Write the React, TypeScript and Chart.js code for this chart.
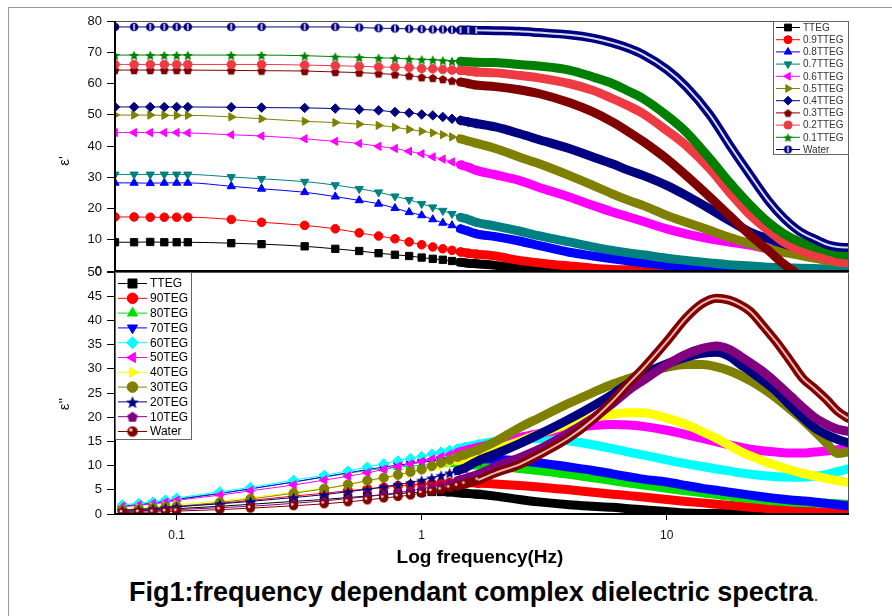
import React, { useEffect, useRef } from "react";
import { Chart, registerables } from "chart.js";
import { drawPoint } from "chart.js/helpers";

Chart.register(...registerables);

// ---------- data: top panel (ε') ----------
const TOP_FREQ = [
  0.056, 0.067, 0.078, 0.089, 0.1, 0.111,
  0.167, 0.222, 0.333, 0.444, 0.556, 0.667, 0.778, 0.889, 1.0,
  1.11, 1.22, 1.33, 1.44, 1.55, 1.67,
  2, 2.5, 3, 4, 5, 6, 7, 8,
  10, 12, 15, 18, 22, 26, 30, 35, 40, 45, 50, 55,
];
const TOP_LABELS = ["TTEG", "0.9TTEG", "0.8TTEG", "0.7TTEG", "0.6TTEG", "0.5TTEG", "0.4TTEG", "0.3TTEG", "0.2TTEG", "0.1TTEG", "Water"];
const TOP_TTEG = [
  9.2, 9.2, 9.3, 9.2, 9.2, 9.2,
  8.9, 8.6, 7.9, 7.1, 6.4, 5.7, 5.2, 4.8, 4.3,
  3.9, 3.6, 3.2, 2.8, 2.5, 2.3,
  1.8, 0.9, 0.5, 0.3, 0.2, 0.2, 0.15, 0.1,
  0.1, 0.1, 0.1, 0.1, 0.1, 0.1, 0.1, 0.1, 0.1, 0.1, 0.1, 0.1,
];
const TOP_09 = [
  17.3, 17.3, 17.2, 17.2, 17.2, 17.2,
  16.5, 15.6, 14.6, 13.5, 12.2, 11.2, 10.3, 9.3, 8.4,
  7.7, 7.1, 6.6, 6.1, 5.7, 5.4,
  4.8, 3.4, 2.6, 1.6, 0.9, 0.5, 0.4, 0.3,
  0.2, 0.2, 0.15, 0.1, 0.1, 0.1, 0.1, 0.1, 0.1, 0.1, 0.1, 0.1,
];
const TOP_08 = [
  28.2, 28.2, 28.1, 28.2, 28.2, 28.2,
  27.1, 26.3, 25.2, 23.8, 22.6, 21.5, 20.1, 18.8, 17.8,
  16.5, 15.4, 14.6, 13.5, 12.7, 11.9,
  11.0, 9.6, 8.2, 6.0, 4.8, 3.9, 3.2, 2.6,
  1.8, 1.2, 0.8, 0.6, 0.5, 0.4, 0.3, 0.3, 0.2, 0.2, 0.2, 0.2,
];
const TOP_07 = [
  30.9, 30.9, 30.9, 30.9, 30.9, 30.9,
  30.1, 29.5, 28.6, 27.5, 26.3, 25.2, 23.9, 22.8, 21.5,
  20.4, 19.3, 18.3, 17.2, 16.5, 15.6,
  14.4, 12.8, 11.3, 9.3, 7.7, 6.6, 5.8, 5.2,
  4.1, 3.4, 2.6, 2.0, 1.6, 1.2, 1.0, 0.9, 0.8, 0.7, 0.7, 0.6,
];
const TOP_06 = [
  44.3, 44.3, 44.3, 44.3, 44.3, 44.2,
  43.6, 43.2, 42.3, 41.5, 40.8, 39.9, 39.2, 38.3, 37.5,
  36.5, 35.8, 34.9, 34.0, 33.2, 32.2,
  30.8, 29.0, 26.8, 23.7, 21.0, 18.9, 17.3, 15.9,
  13.5, 11.9, 10.3, 9.3, 8.2, 7.1, 6.6, 6.0, 5.5, 5.0, 4.8, 4.4,
];
const TOP_05 = [
  49.9, 49.9, 49.9, 49.8, 49.8, 49.8,
  49.3, 48.7, 47.9, 47.5, 47.0, 46.6, 46.0, 45.3, 44.7,
  44.2, 43.6, 42.9, 42.3, 41.6, 40.9,
  39.2, 36.5, 34.4, 30.6, 27.4, 24.7, 22.6, 21.0,
  17.8, 15.6, 13.0, 10.8, 8.7, 7.1, 6.0, 5.0, 4.1, 3.4, 2.8, 2.6,
];
const TOP_04 = [
  52.5, 52.5, 52.5, 52.5, 52.5, 52.5,
  52.4, 52.3, 52.2, 52.0, 51.7, 51.4, 50.9, 50.6, 50.1,
  49.8, 49.3, 48.7, 48.2, 47.7, 47.2,
  46.1, 44.0, 42.1, 39.2, 36.5, 34.3, 32.2, 30.6,
  27.4, 24.2, 19.9, 16.2, 12.4, 10.3, 8.7, 7.1, 6.0, 5.0, 4.4, 3.9,
];
const TOP_03 = [
  64.3, 64.3, 64.3, 64.3, 64.3, 64.3,
  64.2, 64.1, 64.0, 63.7, 63.5, 63.2, 62.9, 62.5, 62.0,
  61.8, 61.4, 60.9, 60.5, 60.0, 59.5,
  59.0, 58.0, 56.8, 53.9, 50.9, 47.7, 44.5, 41.5,
  35.9, 30.6, 23.7, 17.8, 11.4, 6.6, 2.3, -1.5, -4.0, -6.0, -8.0, -10.0,
];
const TOP_02 = [
  66.1, 66.1, 66.1, 66.1, 66.1, 66.1,
  66.1, 66.1, 65.9, 65.7, 65.5, 65.3, 65.2, 65.1, 64.8,
  64.7, 64.5, 64.3, 64.2, 64.0, 63.7,
  63.4, 62.6, 61.8, 60.0, 57.8, 55.2, 52.8, 50.4,
  45.0, 40.2, 32.7, 25.3, 17.8, 13.0, 9.3, 6.6, 5.0, 3.9, 3.0, 2.6,
];
const TOP_01 = [
  69.1, 69.1, 69.1, 69.1, 69.1, 69.1,
  69.1, 69.1, 68.9, 68.6, 68.4, 68.2, 68.1, 67.9, 67.7,
  67.6, 67.4, 67.2, 67.1, 67.0, 66.8,
  66.7, 66.1, 65.6, 64.3, 62.1, 60.0, 57.5, 55.2,
  49.8, 44.5, 36.0, 28.5, 21.0, 15.6, 12.0, 9.3, 7.7, 6.6, 5.5, 5.0,
];
const TOP_WATER = [
  78.1, 78.1, 78.1, 78.1, 78.1, 78.1,
  78.1, 78.1, 78.1, 78.1, 77.9, 77.7, 77.6, 77.5, 77.4,
  77.3, 77.3, 77.2, 77.1, 77.1, 77.0,
  76.9, 76.7, 76.3, 75.6, 74.5, 73.0, 71.3, 69.3,
  64.5, 59.0, 50.0, 40.5, 30.5, 22.5, 17.0, 12.6, 10.3, 8.5, 7.7, 7.5,
];

// ---------- data: bottom panel (ε'') ----------
const BOT_FREQ = [
  0.06, 0.07, 0.08, 0.09, 0.1, 0.15, 0.2,
  0.3, 0.4, 0.5, 0.6, 0.7, 0.8, 0.9, 1.0,
  1.1, 1.2, 1.3, 1.4, 1.5, 1.7,
  2, 2.5, 3, 4, 5, 6, 7, 8,
  10, 12, 14, 16, 18, 20, 22, 25, 28, 32, 36, 40, 45, 50, 55,
];
const BOT_LABELS = ["TTEG", "90TEG", "80TEG", "70TEG", "60TEG", "50TEG", "40TEG", "30TEG", "20TEG", "10TEG", "Water"];
const BOT_TTEG = [
  0.6, 0.7, 0.8, 1.0, 1.1, 1.6, 2.0,
  2.6, 3.0, 3.4, 3.7, 4.0, 4.2, 4.4, 4.5,
  4.6, 4.6, 4.5, 4.4, 4.3, 4.1,
  3.7, 3.0, 2.5, 1.9, 1.6, 1.4, 1.1, 0.9,
  0.5, 0.2, 0.1, 0.1, 0.1, 0.1, 0.1, 0.1, 0.1, 0.1, 0.1, 0.1, 0.1, 0.1, 0.1,
];
const BOT_90 = [
  0.8, 0.9, 1.1, 1.3, 1.5, 2.2, 2.8,
  3.7, 4.3, 4.8, 5.2, 5.5, 5.8, 6.0, 6.2,
  6.3, 6.4, 6.5, 6.5, 6.5, 6.4,
  6.2, 5.9, 5.6, 5.0, 4.5, 4.1, 3.8, 3.5,
  3.0, 2.6, 2.3, 2.0, 1.8, 1.6, 1.4, 1.2, 1.0, 0.8, 0.7, 0.5, 0.4, 0.3, 0.2,
];
const BOT_80 = [
  1.7, 2.0, 2.3, 2.7, 3.1, 4.3, 5.2,
  6.6, 7.6, 8.4, 9.0, 9.4, 9.7, 9.9, 10.1,
  10.2, 10.3, 10.3, 10.3, 10.2, 10.1,
  9.9, 9.4, 9.0, 8.2, 7.5, 6.9, 6.4, 6.0,
  5.3, 4.8, 4.4, 4.0, 3.7, 3.4, 3.2, 2.9, 2.7, 2.5, 2.4, 2.3, 2.2, 2.1, 2.0,
];
const BOT_70 = [
  1.6, 1.9, 2.2, 2.6, 3.0, 4.2, 5.2,
  6.6, 7.7, 8.5, 9.2, 9.7, 10.1, 10.4, 10.7,
  10.9, 11.1, 11.2, 11.3, 11.4, 11.4,
  11.3, 11.0, 10.6, 9.7, 9.0, 8.3, 7.7, 7.2,
  6.6, 5.9, 5.3, 4.9, 4.5, 4.2, 3.9, 3.5, 3.2, 2.9, 2.7, 2.5, 2.2, 1.9, 1.7,
];
const BOT_60 = [
  1.9, 2.2, 2.5, 2.9, 3.3, 4.6, 5.5,
  7.0, 8.0, 8.9, 9.7, 10.4, 11.0, 11.5, 11.9,
  12.4, 12.8, 13.2, 13.5, 13.8, 14.4,
  15.0, 15.5, 15.6, 15.1, 14.3, 13.5, 12.8, 12.2,
  11.2, 10.4, 9.8, 9.3, 8.9, 8.5, 8.2, 7.9, 7.7, 7.6, 7.6, 7.8, 8.2, 8.8, 9.3,
];
const BOT_50 = [
  1.5, 1.8, 2.1, 2.4, 2.8, 3.9, 4.8,
  6.0, 7.0, 7.8, 8.5, 9.2, 9.8, 10.3, 10.8,
  11.3, 11.8, 12.3, 12.7, 13.1, 13.8,
  14.6, 15.8, 16.6, 17.7, 18.3, 18.5, 18.4, 18.1,
  17.3, 16.4, 15.6, 14.9, 14.3, 13.8, 13.4, 13.0, 12.8, 12.6, 12.6, 12.8, 13.0, 13.3, 13.5,
];
const BOT_40 = [
  1.0, 1.2, 1.4, 1.6, 1.9, 2.7, 3.4,
  4.5, 5.3, 6.0, 6.7, 7.3, 7.9, 8.4, 9.0,
  9.5, 10.0, 10.5, 11.0, 11.4, 12.2,
  13.3, 15.0, 16.5, 18.6, 19.9, 20.6, 20.9, 20.9,
  19.8, 18.5, 17.0, 15.6, 14.2, 12.9, 12.0, 10.9, 10.0, 9.1, 8.4, 7.9, 7.3, 6.9, 6.5,
];
const BOT_30 = [
  0.9, 1.0, 1.2, 1.4, 1.6, 2.4, 3.1,
  4.3, 5.2, 6.1, 6.9, 7.5, 8.1, 8.7, 9.2,
  9.9, 10.6, 11.2, 11.8, 12.3, 13.3,
  15.0, 17.8, 19.8, 22.9, 25.1, 26.8, 28.0, 29.0,
  30.3, 30.9, 30.9, 30.4, 29.6, 28.6, 27.5, 25.8, 24.0, 21.6, 19.4, 17.2, 14.6, 12.5, 12.8,
];
const BOT_20 = [
  0.8, 0.9, 1.1, 1.3, 1.5, 2.1, 2.6,
  3.4, 4.0, 4.6, 5.1, 5.6, 6.1, 6.5, 7.0,
  7.5, 8.0, 8.5, 9.0, 9.5, 11.0,
  12.4, 14.5, 16.4, 19.6, 22.3, 24.7, 27.0, 28.8,
  31.0, 32.4, 33.2, 33.4, 32.6, 30.9, 29.5, 27.4, 25.4, 22.4, 19.9, 17.9, 16.4, 15.4, 14.7,
];
const BOT_10 = [
  0.5, 0.6, 0.7, 0.8, 0.9, 1.3, 1.6,
  2.2, 2.7, 3.2, 3.6, 4.0, 4.4, 4.8, 5.2,
  5.6, 6.0, 6.5, 6.9, 7.3, 8.2,
  9.8, 11.6, 13.3, 16.8, 19.8, 22.8, 25.6, 27.6,
  30.8, 33.0, 34.2, 34.7, 34.0, 32.6, 31.2, 29.2, 27.1, 24.4, 22.0, 20.0, 18.5, 17.5, 17.1,
];
const BOT_WATER = [
  0.3, 0.35, 0.4, 0.5, 0.6, 0.9, 1.2,
  1.7, 2.1, 2.5, 2.9, 3.3, 3.6, 3.9, 4.3,
  4.7, 5.0, 5.4, 5.8, 6.2, 7.0,
  8.5, 10.2, 12.2, 15.8, 19.5, 23.3, 27.0, 30.0,
  35.6, 40.5, 43.5, 44.6, 44.2, 43.2, 41.8, 38.6, 35.6, 31.6, 28.0, 26.0, 23.6, 21.2, 19.8,
];

const X_TICKS = [0.1, 1, 10];
const X_MIN = 0.056;
const X_MAX = 55;
const TOP_Y = { min: 0, max: 80, step: 10 };
const BOT_Y = { min: 0, max: 50, step: 5 };

// ---------- styles ----------
const FONT = "'Liberation Sans', Arial, Helvetica, sans-serif";
const NARROW = "'Liberation Sans Narrow', 'Arial Narrow', 'Liberation Sans', Arial, sans-serif";

type Sty = { color: string; shape: string; rot?: number };
const TOP_STYLES: Sty[] = [
  { color: "#000000", shape: "rect" },
  { color: "#ff0000", shape: "circle" },
  { color: "#0000ff", shape: "triangle" },
  { color: "#008080", shape: "triangle", rot: 180 },
  { color: "#ff00ff", shape: "triangle", rot: 270 },
  { color: "#808000", shape: "triangle", rot: 90 },
  { color: "#000080", shape: "rectRot" },
  { color: "#800000", shape: "pentagon" },
  { color: "#ee3a42", shape: "circle" },
  { color: "#008000", shape: "star" },
  { color: "#000080", shape: "waterTop" },
];
const BOT_STYLES: Sty[] = [
  { color: "#000000", shape: "rect" },
  { color: "#ff0000", shape: "circle" },
  { color: "#00e000", shape: "triangle" },
  { color: "#0000ff", shape: "triangle", rot: 180 },
  { color: "#00ffff", shape: "rectRot" },
  { color: "#ff00ff", shape: "triangle", rot: 270 },
  { color: "#ffff00", shape: "triangle", rot: 90 },
  { color: "#808000", shape: "circle" },
  { color: "#000080", shape: "star" },
  { color: "#800080", shape: "pentagon" },
  { color: "#800000", shape: "waterBot" },
];

function radiusFactor(st: Sty) {
  if (st.shape === "rect") return 1.2;
  if (st.shape === "triangle") return 1.1;
  if (st.shape === "rectRot") return 1.1;
  return 1;
}

function shapeCanvas(kind: string, color: string, r: number): HTMLCanvasElement {
  const s = Math.ceil(r * 2 + 3);
  const c = document.createElement("canvas");
  c.width = s;
  c.height = s;
  const g = c.getContext("2d")!;
  const cx = s / 2;
  const cy = s / 2;
  g.fillStyle = color;
  g.beginPath();
  if (kind === "star") {
    const R = r * 1.25;
    for (let i = 0; i < 10; i++) {
      const rr = i % 2 ? R * 0.45 : R;
      const a = -Math.PI / 2 + (i * Math.PI) / 5;
      const px = cx + rr * Math.cos(a);
      const py = cy + 0.8 + rr * Math.sin(a);
      if (i) g.lineTo(px, py);
      else g.moveTo(px, py);
    }
  } else if (kind === "pentagon") {
    for (let i = 0; i < 5; i++) {
      const a = -Math.PI / 2 + (i * 2 * Math.PI) / 5;
      const px = cx + r * 1.05 * Math.cos(a);
      const py = cy + 0.5 + r * 1.05 * Math.sin(a);
      if (i) g.lineTo(px, py);
      else g.moveTo(px, py);
    }
  } else {
    g.arc(cx, cy, r, 0, Math.PI * 2);
  }
  g.closePath();
  g.fill();
  if (kind === "waterTop") {
    g.strokeStyle = "#ffffff";
    g.lineWidth = 1.4;
    g.beginPath();
    g.moveTo(cx, cy - r * 0.75);
    g.lineTo(cx, cy + r * 0.75);
    g.stroke();
  }
  if (kind === "waterBot") {
    g.fillStyle = "rgba(255,235,235,0.9)";
    g.beginPath();
    g.arc(cx - r * 0.3, cy - r * 0.3, r * 0.32, 0, Math.PI * 2);
    g.fill();
  }
  return c;
}

function resolveStyle(st: Sty, r: number): any {
  if (["star", "pentagon", "waterTop", "waterBot"].includes(st.shape)) return shapeCanvas(st.shape, st.color, r);
  return st.shape;
}

type PanelCfg = {
  freq: number[];
  series: number[][];
  labels: string[];
  styles: Sty[];
  y: { min: number; max: number; step: number };
  showX: boolean;
  radius: number;
  markMax: number;
  bandFrom: number;
  band: number;
  core: string;
  padTop: number;
  padBottom: number;
  legend: {
    side: "left" | "right";
    w: number;
    h: number;
    first: number;
    gap: number;
    lineX0: number;
    lineX1: number;
    markX: number;
    textX: number;
    fontSize: number;
    textColor: string;
    r: number;
  };
};

function makeConfig(p: PanelCfg): any {
  const pointStyles = p.styles.map((st) => resolveStyle(st, p.radius));
  const legendStyles = p.styles.map((st) => resolveStyle(st, p.legend.r));
  const n = p.series.length;
  const datasets: any[] = p.series.map((vals, i) => {
    const st = p.styles[i];
    const r = p.radius * radiusFactor(st);
    return {
      label: p.labels[i],
      data: p.freq.map((f, k) => ({ x: f, y: vals[k] })),
      borderColor: st.color,
      backgroundColor: st.color,
      pointBackgroundColor: st.color,
      pointBorderColor: st.color,
      pointBorderWidth: 1,
      pointStyle: pointStyles[i],
      pointRotation: st.rot || 0,
      pointRadius: (c: any) => (p.freq[c.dataIndex] <= p.markMax ? r : 0),
      borderWidth: 1,
      segment: {
        borderWidth: (c: any) => (p.freq[c.p0DataIndex] >= p.bandFrom ? p.band : 1),
      },
      borderJoinStyle: "round",
      borderCapStyle: "round",
      cubicInterpolationMode: "monotone",
      clip: 0,
      order: n - i + 1,
    };
  });
  const w = p.series[n - 1];
  datasets.push({
    label: "_core",
    data: p.freq.map((f, k) => ({ x: f, y: w[k] })),
    borderColor: p.core,
    borderWidth: 2,
    segment: {
      borderColor: (c: any) => (p.freq[c.p0DataIndex] >= p.bandFrom + 0.2 ? p.core : "rgba(0,0,0,0)"),
    },
    pointRadius: 0,
    cubicInterpolationMode: "monotone",
    clip: 0,
    order: 0,
  });

  const framePlugin = {
    id: "frame",
    afterDatasetsDraw(chart: any) {
      const { ctx, chartArea: a } = chart;
      ctx.save();
      ctx.strokeStyle = "#555";
      ctx.lineWidth = 1;
      ctx.beginPath();
      ctx.moveTo(a.left, a.top + 0.5);
      ctx.lineTo(a.right + 0.5, a.top + 0.5);
      ctx.lineTo(a.right + 0.5, a.bottom);
      ctx.stroke();
      ctx.strokeStyle = "#000";
      ctx.lineWidth = 2;
      ctx.beginPath();
      ctx.moveTo(a.left, a.top);
      ctx.lineTo(a.left, a.bottom);
      ctx.lineTo(a.right + 1, a.bottom);
      ctx.stroke();
      ctx.restore();
    },
  };

  const L = p.legend;
  const legendPlugin = {
    id: "boxLegend",
    afterDraw(chart: any) {
      const { ctx, chartArea: a } = chart;
      const x0 = L.side === "right" ? a.right - L.w : a.left;
      const y0 = a.top;
      ctx.save();
      ctx.fillStyle = "#fff";
      ctx.fillRect(x0 + 1, y0 + 1, L.w - 1, L.h - 1);
      ctx.strokeStyle = "#666";
      ctx.lineWidth = 1;
      ctx.strokeRect(x0 + 0.5, y0 + 0.5, L.w, L.h);
      p.labels.forEach((lab, i) => {
        const st = p.styles[i];
        const y = y0 + L.first + i * L.gap;
        ctx.strokeStyle = st.color;
        ctx.lineWidth = 1;
        ctx.beginPath();
        ctx.moveTo(x0 + L.lineX0, y);
        ctx.lineTo(x0 + L.lineX1, y);
        ctx.stroke();
        ctx.fillStyle = st.color;
        drawPoint(
          ctx,
          { pointStyle: legendStyles[i], rotation: st.rot || 0, radius: L.r * radiusFactor(st), borderWidth: 1 } as any,
          x0 + L.markX,
          y
        );
        ctx.fillStyle = L.textColor;
        ctx.font = `${L.fontSize}px ${FONT}`;
        ctx.textBaseline = "middle";
        ctx.textAlign = "left";
        ctx.fillText(lab, x0 + L.textX, y + 0.5);
      });
      ctx.restore();
    },
  };

  return {
    type: "line",
    data: { datasets },
    plugins: [framePlugin, legendPlugin],
    options: {
      responsive: false,
      animation: false,
      events: [],
      layout: { padding: { left: 55, right: 44, top: p.padTop, bottom: p.padBottom } },
      plugins: { legend: { display: false }, tooltip: { enabled: false }, title: { display: false } },
      scales: {
        x: {
          type: "logarithmic",
          display: p.showX,
          min: X_MIN,
          max: X_MAX,
          afterBuildTicks: (s: any) => {
            s.ticks = X_TICKS.map((v) => ({ value: v }));
          },
          afterFit: (s: any) => {
            if (p.showX) s.height = 34;
          },
          ticks: {
            autoSkip: false,
            maxRotation: 0,
            padding: 8,
            color: "#111",
            font: { family: FONT, size: 12 },
            callback: (v: any) => String(v),
          },
          grid: { drawOnChartArea: false, drawTicks: true, tickLength: 6, color: "#000", tickWidth: 1 },
          border: { display: false },
        },
        y: {
          min: p.y.min,
          max: p.y.max,
          afterFit: (s: any) => {
            s.width = 60;
          },
          ticks: { stepSize: p.y.step, padding: 5, color: "#111", font: { family: FONT, size: 13 } },
          grid: { drawOnChartArea: false, drawTicks: true, tickLength: 8, color: "#000", tickWidth: 1 },
          border: { display: false },
        },
      },
    },
  };
}

const rotTitle = (cx: number, cy: number): React.CSSProperties => ({
  position: "absolute",
  left: cx - 20,
  top: cy - 10,
  width: 40,
  height: 20,
  lineHeight: "20px",
  textAlign: "center",
  transform: "rotate(-90deg)",
  fontFamily: FONT,
  fontSize: 15,
  color: "#111",
  whiteSpace: "nowrap",
});

export default function App() {
  const topRef = useRef<HTMLCanvasElement>(null);
  const botRef = useRef<HTMLCanvasElement>(null);

  useEffect(() => {
    const top = new Chart(
      topRef.current!,
      makeConfig({
        freq: TOP_FREQ,
        series: [TOP_TTEG, TOP_09, TOP_08, TOP_07, TOP_06, TOP_05, TOP_04, TOP_03, TOP_02, TOP_01, TOP_WATER],
        labels: TOP_LABELS,
        styles: TOP_STYLES,
        y: TOP_Y,
        showX: false,
        radius: 4.3,
        markMax: 1.67,
        bandFrom: 1.44,
        band: 9,
        core: "#d8dcf0",
        padTop: 21,
        padBottom: 14,
        legend: {
          side: "right",
          w: 75,
          h: 133,
          first: 6.5,
          gap: 12.2,
          lineX0: 3,
          lineX1: 27,
          markX: 15,
          textX: 30,
          fontSize: 10,
          textColor: "#333",
          r: 4,
        },
      })
    );
    const bot = new Chart(
      botRef.current!,
      makeConfig({
        freq: BOT_FREQ,
        series: [BOT_TTEG, BOT_90, BOT_80, BOT_70, BOT_60, BOT_50, BOT_40, BOT_30, BOT_20, BOT_10, BOT_WATER],
        labels: BOT_LABELS,
        styles: BOT_STYLES,
        y: BOT_Y,
        showX: true,
        radius: 4.6,
        markMax: 1.7,
        bandFrom: 1.4,
        band: 9,
        core: "#e8b4b4",
        padTop: 14,
        padBottom: 0,
        legend: {
          side: "left",
          w: 76,
          h: 167,
          first: 11.5,
          gap: 14.8,
          lineX0: 3,
          lineX1: 32,
          markX: 17.5,
          textX: 35,
          fontSize: 12,
          textColor: "#000",
          r: 5.3,
        },
      })
    );
    return () => {
      top.destroy();
      bot.destroy();
    };
  }, []);

  return (
    <div style={{ position: "absolute", left: 0, top: 0, width: 892, height: 616, background: "#fff", overflow: "hidden" }}>
      <div
        style={{
          position: "absolute",
          left: 8,
          top: 7,
          width: 884,
          height: 609,
          borderLeft: "1px solid #9a9a9a",
          borderTop: "1px solid #9a9a9a",
        }}
      />
      <canvas ref={topRef} width={892} height={285} style={{ position: "absolute", left: 0, top: 0, width: 892, height: 285 }} />
      <canvas ref={botRef} width={892} height={290} style={{ position: "absolute", left: 0, top: 258, width: 892, height: 290 }} />
      <div style={rotTitle(64, 161)}>ε'</div>
      <div style={rotTitle(64, 404)}>ε''</div>
      <div
        style={{
          position: "absolute",
          left: 330,
          width: 300,
          top: 545,
          textAlign: "center",
          fontFamily: NARROW,
          fontWeight: "bold",
          fontSize: 19,
          lineHeight: "24px",
          color: "#000",
          whiteSpace: "nowrap",
        }}
      >
        Log frequency(Hz)
      </div>
      <div
        style={{
          position: "absolute",
          left: 24,
          width: 900,
          top: 576,
          textAlign: "center",
          fontFamily: NARROW,
          fontWeight: "bold",
          fontSize: 27,
          lineHeight: "32px",
          color: "#000",
          whiteSpace: "nowrap",
        }}
      >
        Fig1:frequency dependant complex dielectric spectra
        <span style={{ fontWeight: "normal", fontSize: 20, color: "#444" }}>.</span>
      </div>
    </div>
  );
}
